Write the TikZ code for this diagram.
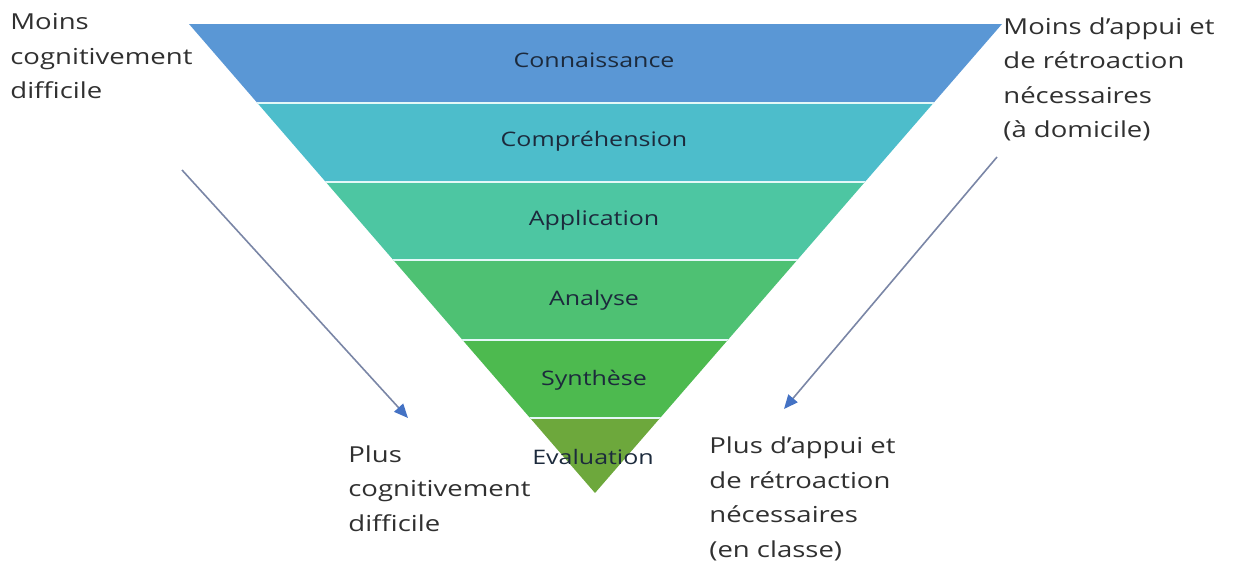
\documentclass[tikz,border=0pt]{standalone}
\usepackage{fontspec}
\newfontfamily\widefont[FakeStretch=1.25]{Open Sans}
\usetikzlibrary{arrows.meta}

\definecolor{bandA}{HTML}{5A97D5}
\definecolor{bandB}{HTML}{4DBDCB}
\definecolor{bandC}{HTML}{4DC6A2}
\definecolor{bandD}{HTML}{4EC173}
\definecolor{bandE}{HTML}{4DBA4F}
\definecolor{bandF}{HTML}{6DA83C}
\definecolor{sepwhite}{HTML}{E4F8F8}
\definecolor{textgray}{HTML}{303030}
\definecolor{labelnavy}{HTML}{1C2A3C}
\definecolor{arrowgray}{HTML}{7A86A6}
\definecolor{arrowblue}{HTML}{4472C4}

\tikzset{
  sidetext/.style={anchor=base west, align=left, inner sep=0, text=textgray,
    font=\widefont\fontsize{11}{17.25}\selectfont},
  levellabel/.style={anchor=base, inner sep=0, text=labelnavy,
    font=\widefont\fontsize{10}{12}\selectfont},
  sepline/.style={draw=sepwhite, line width=1pt},
  trendarrow/.style={draw=arrowgray, line width=0.8pt,
    -{Triangle[length=7pt,width=6pt,color=arrowblue]}}
}

\begin{document}
\begin{tikzpicture}[x=0.5pt,y=-0.5pt]
    \useasboundingbox (0,0) rectangle (1235,561);

    % inverted pyramid
    \begin{scope}
        \clip (189,24) -- (1002,24) -- (595,493) -- cycle;
        \fill[bandA] (0,24) rectangle (1235,103);
        \fill[bandB] (0,103) rectangle (1235,182);
        \fill[bandC] (0,182) rectangle (1235,260);
        \fill[bandD] (0,260) rectangle (1235,340);
        \fill[bandE] (0,340) rectangle (1235,418);
        \fill[bandF] (0,418) rectangle (1235,493);
        \foreach \y in {103,182,260,340,418}
            \draw[sepline] (0,\y) -- (1235,\y);
    \end{scope}

    \node[levellabel] (conn) at (594,68) {Connaissance};
    \node[levellabel] (comp) at (594,147) {Compréhension};
    \node[levellabel] (appl) at (594,226) {Application};
    \node[levellabel] (anal) at (594,305) {Analyse};
    \node[levellabel] (synt) at (594,385) {Synthèse};
    \node[levellabel] (eval) at (593,464) {Evaluation};

    % side texts (placed by the baseline of their last line)
    \node[sidetext] (moinsdiff) at (10,99) {Moins\\cognitivement\\difficile};
    \node[sidetext] (moinsappui) at (1003,138) {Moins d’appui et\\de rétroaction\\nécessaires\\(à domicile)};
    \node[sidetext] (plusdiff) at (348,531) {Plus\\cognitivement\\difficile};
    \node[sidetext] (plusappui) at (709,557) {Plus d’appui et\\de rétroaction\\nécessaires\\(en classe)};

    % arrows
    \coordinate (lstart) at (182,170);
    \coordinate (lend) at (408,418);
    \coordinate (rstart) at (997,157);
    \coordinate (rend) at (784,409);
    \draw[trendarrow] (lstart) -- (lend);
    \draw[trendarrow] (rstart) -- (rend);
\end{tikzpicture}
\end{document}
